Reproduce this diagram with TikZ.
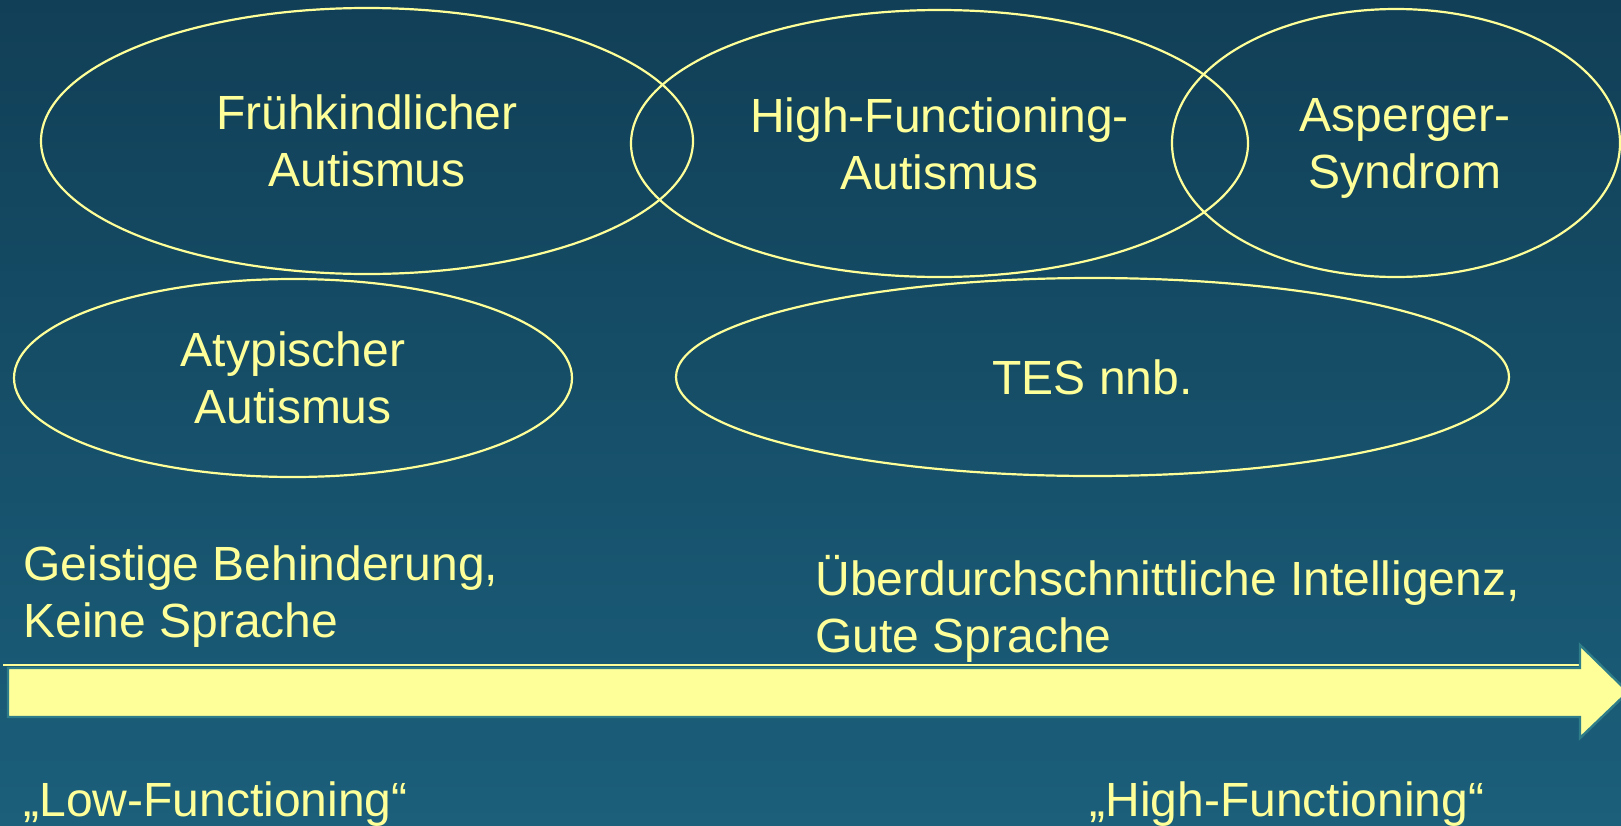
\documentclass[tikz,border=0pt]{standalone}
\usepackage{fontspec}
\setmainfont{Liberation Sans}
\usetikzlibrary{shapes.geometric}
\definecolor{bgtop}{HTML}{113F57}
\definecolor{bgbot}{HTML}{1B5F7B}
\definecolor{lyellow}{HTML}{FFFF99}
\definecolor{arrowedge}{HTML}{2F7D88}
\tikzset{
  oval/.style={ellipse, draw=lyellow, line width=1.1pt, inner sep=0pt, text=lyellow, align=center,
     font=\fontsize{24}{28.5}\selectfont},
  label/.style={text=lyellow, align=left, inner sep=0pt, font=\fontsize{24}{28.5}\selectfont},
}
\begin{document}
\begin{tikzpicture}[x=0.5pt,y=-0.5pt]
\useasboundingbox (0,0) rectangle (1621,825);
\shade[top color=bgtop, bottom color=bgbot] (0,0) rectangle (1621,825);
\begin{scope}
\clip (0,0) rectangle (1621,825);
% ellipses
\node[oval, minimum width=326pt, minimum height=133pt] (fa) at (367,141) {Frühkindlicher\\Autismus};
\node[oval, minimum width=308.5pt, minimum height=133.5pt] (hfa) at (939.5,143.5) {High-Functioning-\\Autismus};
\node[oval, minimum width=224pt, minimum height=134pt] (as) at (1396,143) {};
\node[text=lyellow, align=center, font=\fontsize{24}{28.5}\selectfont, inner sep=0pt] (ast) at (1405,148) {Asperger-\\Syndrom};
\node[oval, minimum width=279pt, minimum height=99pt] (aa) at (293,378) {Atypischer\\Autismus};
\node[oval, minimum width=416.5pt, minimum height=99pt] (tes) at (1092.5,377) {TES nnb.};
% arrow
\draw[lyellow, line width=1pt] (3,665) -- (1580,665);
\filldraw[fill=lyellow, draw=arrowedge, line width=1.2pt]
  (8,668) -- (1580,668) -- (1580,645) -- (1628,692) -- (1580,738) -- (1580,717) -- (8,717) -- cycle;
\end{scope}
% labels
\node[label, anchor=base west] (gb) at (23,637) {Geistige Behinderung,\\Keine Sprache};
\node[label, anchor=base west] (ud) at (815,652) {Überdurchschnittliche Intelligenz,\\Gute Sprache};
\node[label, anchor=base west] (lf) at (23,816) {„Low-Functioning“};
\node[label, anchor=base west] (hf) at (1089,816) {„High-Functioning“};
\end{tikzpicture}
\end{document}
